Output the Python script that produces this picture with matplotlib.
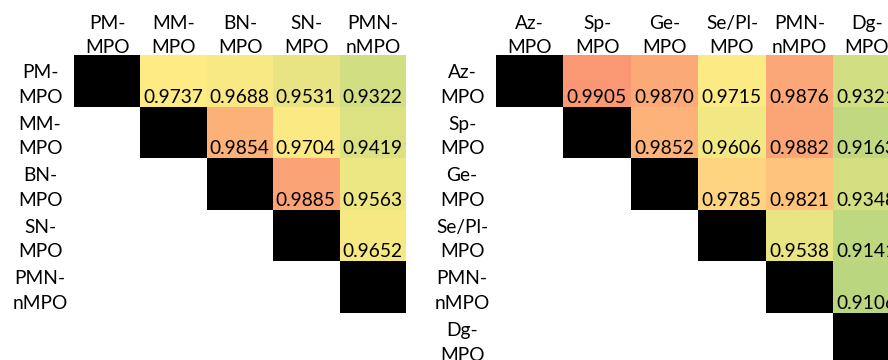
import numpy as np
import matplotlib
matplotlib.use("Agg")
import matplotlib.pyplot as plt
from matplotlib.colors import LinearSegmentedColormap, ListedColormap, TwoSlopeNorm

plt.rcParams['font.family'] = ['Lato', 'DejaVu Sans']

# left table: mother-tongue models
left_labels = [("PM-", "MPO"), ("MM-", "MPO"), ("BN-", "MPO"), ("SN-", "MPO"), ("PMN-", "nMPO")]
left_values = [
    [np.nan, 0.9737, 0.9688, 0.9531, 0.9322],
    [np.nan, np.nan, 0.9854, 0.9704, 0.9419],
    [np.nan, np.nan, np.nan, 0.9885, 0.9563],
    [np.nan, np.nan, np.nan, np.nan, 0.9652],
    [np.nan, np.nan, np.nan, np.nan, np.nan],
]

# right table
right_labels = [("Az-", "MPO"), ("Sp-", "MPO"), ("Ge-", "MPO"), ("Se/Pl-", "MPO"),
                ("PMN-", "nMPO"), ("Dg-", "MPO")]
right_values = [
    [np.nan, 0.9905, 0.9870, 0.9715, 0.9876, 0.9321],
    [np.nan, np.nan, 0.9852, 0.9606, 0.9882, 0.9163],
    [np.nan, np.nan, np.nan, 0.9785, 0.9821, 0.9348],
    [np.nan, np.nan, np.nan, np.nan, 0.9538, 0.9141],
    [np.nan, np.nan, np.nan, np.nan, np.nan, 0.9106],
    [np.nan, np.nan, np.nan, np.nan, np.nan, np.nan],
]

# excel style red-yellow-green scale
cmap = LinearSegmentedColormap.from_list("ryg", ["#63BE7B", "#FFEB84", "#F8696B"])
norm = TwoSlopeNorm(vmin=0.83, vcenter=0.974, vmax=1.0)

W, H = 888, 360
fig = plt.figure(figsize=(W / 100, H / 100), dpi=100)
FS = 13.8
ROW_H = 51.6


def draw_table(labels, values, x0, col_w):
    n = len(labels)
    vals = np.array(values)
    top = 55
    ax = fig.add_axes([x0 / W, (H - top - n * ROW_H) / H, n * col_w / W, n * ROW_H / H])
    edges = np.arange(n + 1) - 0.5
    ax.pcolormesh(edges, edges, np.ma.masked_invalid(vals), cmap=cmap, norm=norm)
    diag = np.ma.masked_where(~np.eye(n, dtype=bool), np.ones((n, n)))
    ax.pcolormesh(edges, edges, diag, cmap=ListedColormap(["black"]))
    ax.set_xlim(-0.5, n - 0.5)
    ax.set_ylim(n - 0.5, -0.5)
    ax.axis("off")

    px_x = 1 / col_w
    px_y = 1 / ROW_H
    for i, (a, b) in enumerate(labels):
        # column headers
        ax.text(i, -0.5 - 2 * px_y - 24 * px_y, a, ha="center", va="baseline", fontsize=FS, clip_on=False)
        ax.text(i, -0.5 - 2 * px_y, b, ha="center", va="baseline", fontsize=FS, clip_on=False)
        # row headers
        ax.text(-0.5 - 34 * px_x, i - 0.5 + 23 * px_y, a, ha="center", va="baseline", fontsize=FS, clip_on=False)
        ax.text(-0.5 - 34 * px_x, i + 0.5 - 4 * px_y, b, ha="center", va="baseline", fontsize=FS, clip_on=False)
    for i in range(n):
        for j in range(n):
            if not np.isnan(vals[i, j]):
                ax.text(j + 0.5 - 4 * px_x, i + 0.5 - 4 * px_y, f"{vals[i, j]:.4f}",
                        ha="right", va="baseline", fontsize=FS, clip_on=False)
    return ax


draw_table(left_labels, left_values, 74, 66.4)
draw_table(right_labels, right_values, 496, 67.4)

fig.savefig("out.png", dpi=100)
